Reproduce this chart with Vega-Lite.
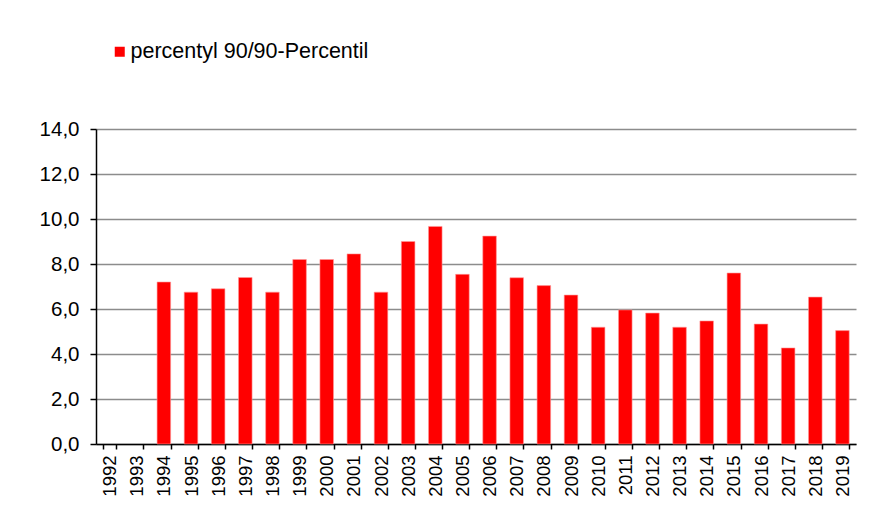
{
  "$schema": "https://vega.github.io/schema/vega-lite/v6.json",
  "width": 760,
  "height": 315,
  "autosize": {"type": "none"},
  "padding": {"left": 96, "top": 129, "right": 26, "bottom": 75},
  "background": "#ffffff",
  "config": {
    "font": "Liberation Sans",
    "view": {"stroke": null}
  },
  "data": {
    "values": [
      {"year": "1992", "value": null},
      {"year": "1993", "value": null},
      {"year": "1994", "value": 7.2},
      {"year": "1995", "value": 6.75},
      {"year": "1996", "value": 6.9},
      {"year": "1997", "value": 7.4},
      {"year": "1998", "value": 6.75},
      {"year": "1999", "value": 8.2},
      {"year": "2000", "value": 8.2},
      {"year": "2001", "value": 8.45},
      {"year": "2002", "value": 6.75},
      {"year": "2003", "value": 9.0},
      {"year": "2004", "value": 9.67},
      {"year": "2005", "value": 7.54},
      {"year": "2006", "value": 9.24},
      {"year": "2007", "value": 7.39},
      {"year": "2008", "value": 7.04},
      {"year": "2009", "value": 6.62},
      {"year": "2010", "value": 5.19},
      {"year": "2011", "value": 5.96},
      {"year": "2012", "value": 5.82},
      {"year": "2013", "value": 5.19},
      {"year": "2014", "value": 5.47},
      {"year": "2015", "value": 7.6},
      {"year": "2016", "value": 5.33},
      {"year": "2017", "value": 4.27},
      {"year": "2018", "value": 6.53},
      {"year": "2019", "value": 5.04}
    ]
  },
  "mark": {"type": "bar", "stroke": "#ff9a9a", "strokeWidth": 0.6},
  "encoding": {
    "x": {
      "field": "year",
      "type": "ordinal",
      "scale": {
        "domain": ["1992","1993","1994","1995","1996","1997","1998","1999","2000","2001","2002","2003","2004","2005","2006","2007","2008","2009","2010","2011","2012","2013","2014","2015","2016","2017","2018","2019"],
        "paddingInner": 0.5,
        "paddingOuter": 0.25
      },
      "axis": {
        "title": null,
        "labelAngle": -90,
        "labelFontSize": 18.5,
        "labelColor": "#000000",
        "labelPadding": 6,
        "tickBand": "extent",
        "tickSize": 5,
        "tickColor": "#000000",
        "tickWidth": 1.5,
        "domainColor": "#000000",
        "domainWidth": 1.5,
        "grid": false
      }
    },
    "y": {
      "field": "value",
      "type": "quantitative",
      "scale": {"domain": [0, 14], "nice": false},
      "axis": {
        "title": null,
        "values": [0, 2, 4, 6, 8, 10, 12, 14],
        "labelExpr": "replace(format(datum.value, '.1f'), '.', ',')",
        "labelFontSize": 20.5,
        "labelColor": "#000000",
        "labelPadding": 11,
        "tickSize": 6,
        "tickColor": "#000000",
        "tickWidth": 1.5,
        "domainColor": "#000000",
        "domainWidth": 1.5,
        "grid": true,
        "gridColor": "#8c8c8c",
        "gridWidth": 1.5
      }
    },
    "color": {
      "datum": "percentyl 90/90-Percentil",
      "type": "nominal",
      "scale": {"range": ["#ff0000"]},
      "legend": {
        "title": null,
        "orient": "none",
        "legendX": 13,
        "legendY": -88,
        "symbolType": "square",
        "symbolSize": 100,
        "symbolStrokeWidth": 0,
        "labelFontSize": 21.5,
        "labelLimit": 0,
        "labelColor": "#000000",
        "labelOffset": 0
      }
    }
  }
}
